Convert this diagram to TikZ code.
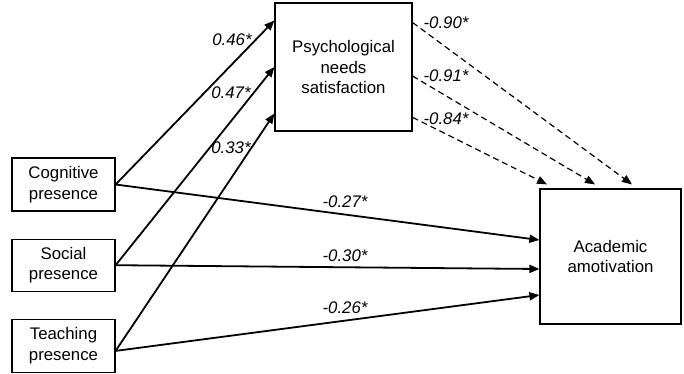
\documentclass[tikz,border=0pt]{standalone}
\usepackage{fontspec}
\setmainfont{Liberation Sans}
\usetikzlibrary{arrows.meta,positioning,calc}

\begin{document}
\begin{tikzpicture}[
  x=1pt, y=-1pt,
  every node/.style={font=\fontsize{16.8}{20.5}\selectfont},
  box/.style={draw, line width=1.2pt, align=center, inner sep=2pt},
  arr/.style={-{Triangle[length=10pt,width=8pt]}, line width=1.8pt},
  dasharr/.style={-{Triangle[length=10pt,width=8pt]}, line width=1.2pt,
                  dash pattern=on 6pt off 4pt},
  lbl/.style={font=\fontsize{16.8}{20.5}\selectfont\itshape, inner sep=0pt}
]
\useasboundingbox (0,0) rectangle (684,374);

\node[box, minimum width=103pt, minimum height=53pt] (cog) at (63.5,184.5)
  {Cognitive\\presence};
\node[box, minimum width=103pt, minimum height=52pt, below=27pt of cog] (soc)
  {Social\\presence};
\node[box, minimum width=103pt, minimum height=53pt, below=27pt of soc] (tea)
  {Teaching\\presence};
\node[box, minimum width=137pt, minimum height=128pt] (pns) at (343.5,67)
  {Psychological\\needs\\satisfaction};
\node[box, minimum width=141pt, minimum height=135pt] (aa) at (610.5,256.5)
  {Academic\\amotivation};

% paths to needs satisfaction
\draw[arr] (cog.east) -- ($(pns.north west)!0.14!(pns.south west)$);
\draw[arr] (soc.east) -- (pns.west);
\draw[arr] ([yshift=-5pt]tea.east) -- ($(pns.north west)!0.86!(pns.south west)$);

% direct paths to amotivation
\draw[arr] (cog.east) -- ([yshift=16.5pt]aa.west);
\draw[arr] (soc.east) -- ([yshift=-12.5pt]aa.west);
\draw[arr] ([yshift=-5pt]tea.east) -- ([yshift=-38.5pt]aa.west);

% indirect paths
\draw[dasharr] ($(pns.north east)!0.156!(pns.south east)$) -- ([xshift=21.5pt,yshift=4pt]aa.north);
\draw[dasharr] ($(pns.north east)!0.57!(pns.south east)$) -- ([xshift=-15.5pt,yshift=4pt]aa.north);
\draw[dasharr] ($(pns.north east)!0.89!(pns.south east)$) -- ([xshift=-63.5pt,yshift=4pt]aa.north);

\node[lbl] (w46) at (232,40) {0.46*};
\node[lbl] (w47) at (231,93) {0.47*};
\node[lbl] (w33) at (231,148) {0.33*};
\node[lbl] (w90) at (446,23) {-0.90*};
\node[lbl] (w91) at (446,76) {-0.91*};
\node[lbl] (w84) at (446,119) {-0.84*};
\node[lbl] (w27) at (345,202) {-0.27*};
\node[lbl] (w30) at (345,256) {-0.30*};
\node[lbl] (w26) at (345,308) {-0.26*};
\end{tikzpicture}
\end{document}
